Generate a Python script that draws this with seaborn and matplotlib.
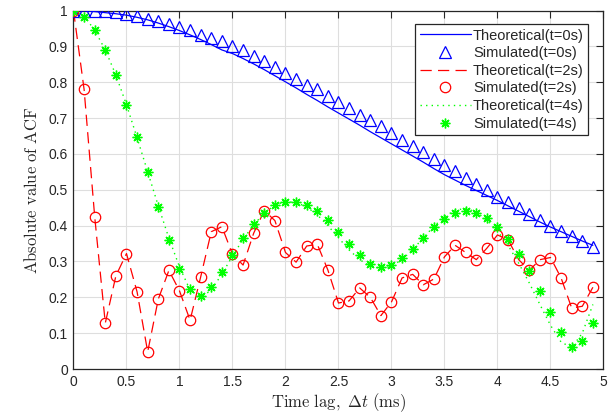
import numpy as np
import pandas as pd
import seaborn as sns
import matplotlib
matplotlib.use("Agg")
import matplotlib.pyplot as plt

# Time lag axis (ms), sampled every 0.1 ms
lag = np.round(np.arange(0, 5.0, 0.1), 1)

# t = 0 s
theo_t0 = [1.000, 0.999, 0.997, 0.994, 0.991, 0.987, 0.981, 0.974, 0.965, 0.955,
           0.944, 0.932, 0.919, 0.905, 0.890, 0.880, 0.866, 0.851, 0.835, 0.818,
           0.801, 0.784, 0.766, 0.749, 0.731, 0.714, 0.697, 0.680, 0.662, 0.645,
           0.628, 0.611, 0.594, 0.577, 0.559, 0.542, 0.527, 0.512, 0.498, 0.484,
           0.470, 0.455, 0.440, 0.425, 0.410, 0.396, 0.383, 0.370, 0.357, 0.345]
sim_t0 = [1.000, 1.000, 1.000, 0.998, 0.995, 0.990, 0.985, 0.977, 0.970, 0.963,
          0.954, 0.945, 0.933, 0.923, 0.914, 0.902, 0.889, 0.872, 0.859, 0.842,
          0.826, 0.809, 0.793, 0.780, 0.761, 0.744, 0.728, 0.709, 0.694, 0.677,
          0.658, 0.640, 0.623, 0.605, 0.587, 0.569, 0.551, 0.533, 0.516, 0.498,
          0.481, 0.465, 0.448, 0.431, 0.415, 0.400, 0.385, 0.370, 0.356, 0.340]

# t = 2 s
theo_t2 = [1.000, 0.780, 0.425, 0.128, 0.260, 0.322, 0.215, 0.048, 0.195, 0.275,
           0.218, 0.136, 0.257, 0.383, 0.397, 0.320, 0.290, 0.379, 0.442, 0.414,
           0.325, 0.298, 0.343, 0.348, 0.276, 0.184, 0.190, 0.226, 0.200, 0.149,
           0.187, 0.254, 0.264, 0.235, 0.251, 0.313, 0.345, 0.325, 0.305, 0.337,
           0.374, 0.360, 0.305, 0.275, 0.305, 0.311, 0.254, 0.170, 0.175, 0.228]
sim_t2 = list(theo_t2)

# t = 4 s
theo_t4 = [1.000, 0.985, 0.945, 0.890, 0.820, 0.737, 0.645, 0.550, 0.455, 0.365,
           0.285, 0.220, 0.200, 0.220, 0.265, 0.315, 0.362, 0.402, 0.435, 0.457,
           0.467, 0.465, 0.452, 0.430, 0.400, 0.366, 0.332, 0.305, 0.287, 0.280,
           0.287, 0.305, 0.333, 0.366, 0.398, 0.425, 0.443, 0.448, 0.438, 0.415,
           0.385, 0.345, 0.295, 0.240, 0.180, 0.122, 0.075, 0.060, 0.100, 0.180]
sim_t4 = [1.000, 0.982, 0.945, 0.891, 0.820, 0.737, 0.647, 0.550, 0.453, 0.360,
          0.280, 0.223, 0.205, 0.228, 0.270, 0.318, 0.365, 0.404, 0.436, 0.457,
          0.467, 0.467, 0.458, 0.440, 0.415, 0.383, 0.349, 0.317, 0.293, 0.285,
          0.289, 0.309, 0.336, 0.366, 0.397, 0.419, 0.436, 0.441, 0.434, 0.422,
          0.397, 0.363, 0.321, 0.273, 0.217, 0.158, 0.102, 0.061, 0.077, 0.127]

x_ticks = [0, 0.5, 1, 1.5, 2, 2.5, 3, 3.5, 4, 4.5, 5]
x_tick_labels = ["0", "0.5", "1", "1.5", "2", "2.5", "3", "3.5", "4", "4.5", "5"]
y_ticks = [0, 0.1, 0.2, 0.3, 0.4, 0.5, 0.6, 0.7, 0.8, 0.9, 1.0]
y_tick_labels = ["0", "0.1", "0.2", "0.3", "0.4", "0.5", "0.6", "0.7", "0.8", "0.9", "1"]

sns.set_theme(style="whitegrid")
plt.rcParams["font.family"] = ["Liberation Sans", "DejaVu Sans"]
plt.rcParams["mathtext.fontset"] = "cm"

fig = plt.figure(figsize=(6.16, 4.17), dpi=100)
ax = fig.add_axes([0.1193, 0.1151, 0.8604, 0.8597])

blue, red, green = "#0000ff", "#ff0000", "#00ff00"

sns.lineplot(x=lag, y=theo_t0, ax=ax, color=blue, linewidth=0.9,
             label="Theoretical(t=0s)", zorder=3)
sns.lineplot(x=lag, y=sim_t0, ax=ax, color=blue, linestyle="", marker="^",
             markersize=8, markerfacecolor="none", markeredgecolor=blue,
             markeredgewidth=0.9, label="Simulated(t=0s)", zorder=4)
sns.lineplot(x=lag, y=theo_t2, ax=ax, color=red, linewidth=0.9,
             linestyle=(0, (9, 5)), label="Theoretical(t=2s)", zorder=3)
sns.lineplot(x=lag, y=sim_t2, ax=ax, color=red, linestyle="", marker="o",
             markersize=7.5, markerfacecolor="none", markeredgecolor=red,
             markeredgewidth=0.9, label="Simulated(t=2s)", zorder=4)
sns.lineplot(x=lag, y=theo_t4, ax=ax, color=green, linewidth=1.0,
             linestyle=(0, (1, 3)), label="Theoretical(t=4s)", zorder=3)
sns.lineplot(x=lag, y=sim_t4, ax=ax, color=green, linestyle="", marker=(8, 2, 0),
             markersize=7, markerfacecolor=green, markeredgecolor=green,
             markeredgewidth=1.0, label="Simulated(t=4s)", zorder=4)

ax.set_xlim(0, 5)
ax.set_ylim(0, 1)
ax.set_xticks(x_ticks)
ax.set_xticklabels(x_tick_labels)
ax.set_yticks(y_ticks)
ax.set_yticklabels(y_tick_labels)

ax.grid(True, color="#dedede", linewidth=0.8)
ax.set_axisbelow(True)
for side in ["left", "right", "top", "bottom"]:
    ax.spines[side].set_color("#262626")
    ax.spines[side].set_linewidth(0.9)
ax.tick_params(direction="in", top=True, right=True, length=5, width=0.8,
               color="#262626", labelcolor="#262626", labelsize=10, pad=4)

ax.set_xlabel(r"$\mathrm{Time\ lag,}\ \Delta t\ \mathrm{(ms)}$", fontsize=12,
              color="#262626", labelpad=2)
ax.set_ylabel(r"$\mathrm{Absolute\ value\ of\ ACF}$", fontsize=12,
              color="#262626", labelpad=6)

handles, labels = ax.get_legend_handles_labels()
leg = ax.legend(handles, labels, loc="upper right", bbox_to_anchor=(0.971, 0.962),
                borderaxespad=0, fancybox=False, framealpha=1, fontsize=10.5,
                handlelength=3.5, handletextpad=0.15, labelspacing=0.25,
                borderpad=0.3)
leg.get_frame().set_edgecolor("#262626")
leg.get_frame().set_linewidth(0.9)
for t in leg.get_texts():
    t.set_color("#262626")

fig.savefig("out.png", dpi=100)
